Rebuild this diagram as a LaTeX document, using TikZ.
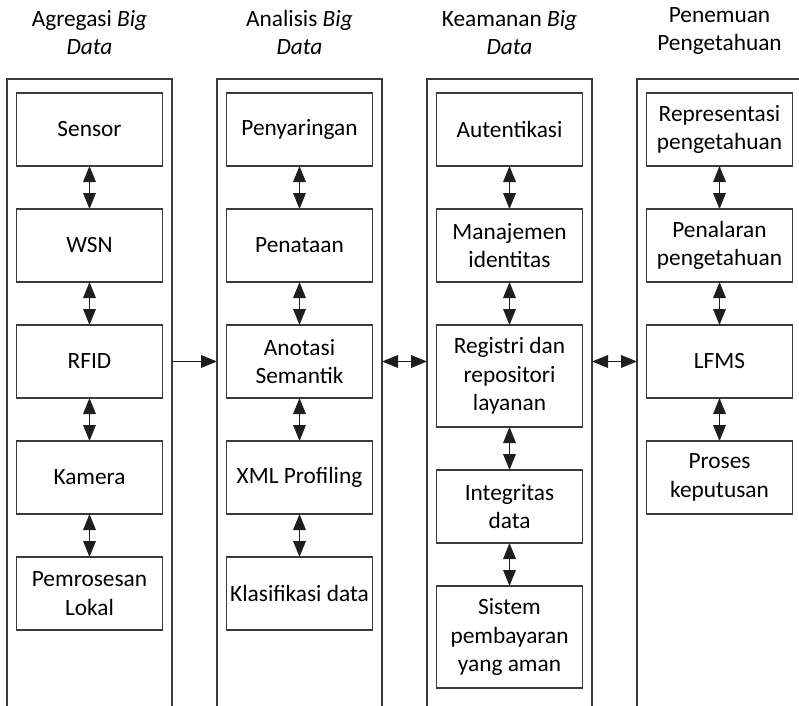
\documentclass[tikz,border=0pt]{standalone}
\usepackage{fontspec}
\setmainfont{Carlito}
\usetikzlibrary{
  arrows.meta,
  positioning
}
\definecolor{LineGray}{HTML}{3A3A3A}
\definecolor{ArrowDark}{HTML}{1E1E1E}
\tikzset{
  column/.style={
    inner sep=0pt,
    outer sep=0pt,
    minimum width=123.75pt,
    minimum height=480pt
  },
  frame/.style={
    draw=LineGray,
    line width=0.8pt
  },
  item/.style={
    draw=LineGray,
    line width=0.8pt,
    align=center,
    inner sep=2pt,
    outer sep=0pt,
    minimum width=109.5pt,
    minimum height=54.75pt
  },
  tallitem/.style={
    item,
    minimum height=76.5pt
  },
  header/.style={
    align=center,
    inner sep=0pt
  },
  link/.style={
    -{Triangle[length=12pt,width=9.5pt]},
    draw=ArrowDark,
    line width=0.8pt
  },
  biarrow/.style={
    {Triangle[length=12pt,width=9.5pt]}-{Triangle[length=12pt,width=9.5pt]},
    draw=ArrowDark,
    line width=0.8pt
  }
}

\begin{document}
\begin{tikzpicture}[
  x=0.75pt,
  y=-0.75pt,
  node distance=32.25pt and 33.75pt,
  font=\fontsize{17.5}{21.4}\selectfont
]

  \useasboundingbox (0,0) rectangle (799,706);

  % columns
  \node[column, anchor=north] (agregasi) at (89.5,79) {};
  \node[column, right=of agregasi] (analisis) {};
  \node[column, right=of analisis] (keamanan) {};
  \node[column, right=of keamanan] (penemuan) {};

  \draw[frame] (agregasi.south west) |- (agregasi.north east) -- (agregasi.south east);
  \draw[frame] (analisis.south west) |- (analisis.north east) -- (analisis.south east);
  \draw[frame] (keamanan.south west) |- (keamanan.north east) -- (keamanan.south east);
  \draw[frame] (penemuan.south west) |- (penemuan.north east) -- (penemuan.south east);

  % headers
  \node[header, above=18pt of agregasi.north] (hAgregasi) {
    Agregasi \textit{Big}\\
    \textit{Data}
  };
  \node[header, above=18pt of analisis.north] (hAnalisis) {
    Analisis \textit{Big}\\
    \textit{Data}
  };
  \node[header, above=18pt of keamanan.north] (hKeamanan) {
    Keamanan \textit{Big}\\
    \textit{Data}
  };
  \node[header, above=18pt of penemuan.north] (hPenemuan) {
    Penemuan\\
    Pengetahuan
  };

  % Agregasi Big Data
  \node[item, below=10.5pt of agregasi.north] (sensor) {Sensor};
  \node[item, below=of sensor] (wsn) {WSN};
  \node[item, below=of wsn] (rfid) {RFID};
  \node[item, below=of rfid] (kamera) {Kamera};
  \node[item, below=of kamera] (lokal) {
    Pemrosesan\\
    Lokal
  };

  % Analisis Big Data
  \node[item, below=10.5pt of analisis.north] (saring) {Penyaringan};
  \node[item, below=of saring] (tata) {Penataan};
  \node[item, below=of tata] (anotasi) {
    Anotasi\\
    Semantik
  };
  \node[item, below=of anotasi] (xml) {XML Profiling};
  \node[item, below=of xml] (klasifikasi) {Klasifikasi data};

  % Keamanan Big Data
  \node[item, below=10.5pt of keamanan.north] (autentikasi) {Autentikasi};
  \node[item, below=of autentikasi] (identitas) {
    Manajemen\\
    identitas
  };
  \node[tallitem, below=of identitas] (registri) {
    Registri dan\\
    repositori\\
    layanan
  };
  \node[item, below=of registri] (integritas) {
    Integritas\\
    data
  };
  \node[tallitem, below=of integritas] (bayar) {
    Sistem\\
    pembayaran\\
    yang aman
  };

  % Penemuan Pengetahuan
  \node[item, below=10.5pt of penemuan.north] (representasi) {
    Representasi\\
    pengetahuan
  };
  \node[item, below=of representasi] (penalaran) {
    Penalaran\\
    pengetahuan
  };
  \node[item, below=of penalaran] (lfms) {LFMS};
  \node[item, below=of lfms] (keputusan) {
    Proses\\
    keputusan
  };

  % arrows inside the columns
  \draw[biarrow] (sensor) -- (wsn);
  \draw[biarrow] (wsn) -- (rfid);
  \draw[biarrow] (rfid) -- (kamera);
  \draw[biarrow] (kamera) -- (lokal);

  \draw[biarrow] (saring) -- (tata);
  \draw[biarrow] (tata) -- (anotasi);
  \draw[biarrow] (anotasi) -- (xml);
  \draw[biarrow] (xml) -- (klasifikasi);

  \draw[biarrow] (autentikasi) -- (identitas);
  \draw[biarrow] (identitas) -- (registri);
  \draw[biarrow] (registri) -- (integritas);
  \draw[biarrow] (integritas) -- (bayar);

  \draw[biarrow] (representasi) -- (penalaran);
  \draw[biarrow] (penalaran) -- (lfms);
  \draw[biarrow] (lfms) -- (keputusan);

  % arrows between the columns
  \draw[link] (agregasi.east |- anotasi) -- (analisis.west |- anotasi);
  \draw[biarrow] (analisis.east |- anotasi) -- (keamanan.west |- anotasi);
  \draw[biarrow] (keamanan.east |- anotasi) -- (penemuan.west |- anotasi);

\end{tikzpicture}
\end{document}
